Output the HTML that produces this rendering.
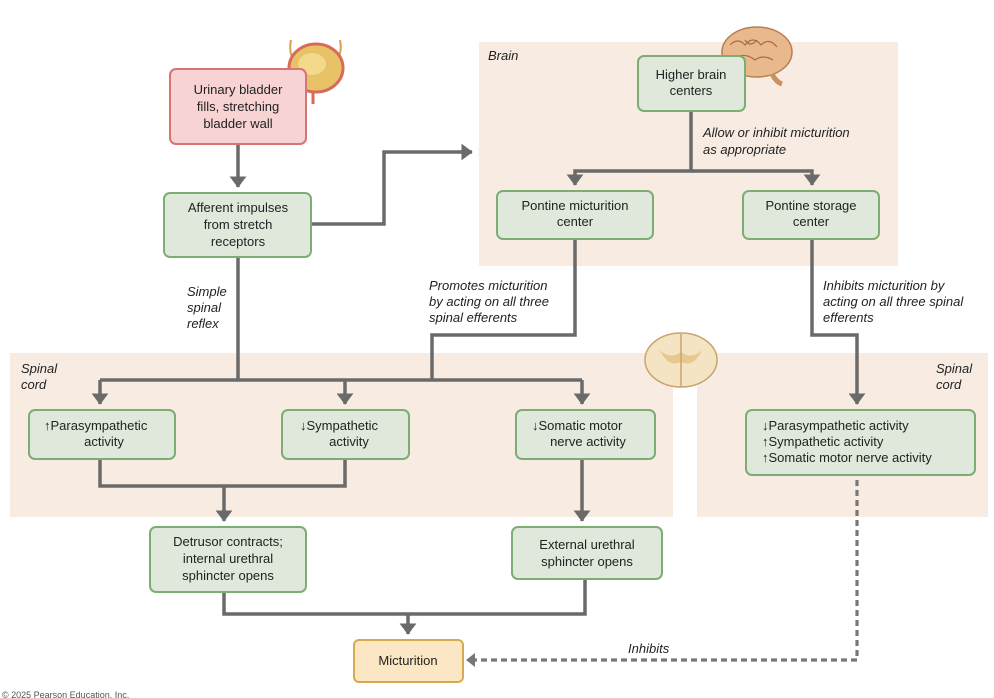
<!DOCTYPE html>
<html><head><meta charset="utf-8"><style>
html,body{margin:0;padding:0;background:#fff;}
svg{display:block;}
text{font-family:"Liberation Sans",sans-serif;font-size:13px;fill:#222;}
.i{font-style:italic;}
.box{fill:#dfe8da;stroke:#7cae74;stroke-width:2;}
.ln{fill:none;stroke:#6a6a6a;stroke-width:3.5;}
</style></head><body>
<svg width="994" height="698" viewBox="0 0 994 698" xmlns="http://www.w3.org/2000/svg">
<defs>
<marker id="a" markerWidth="6" markerHeight="6" refX="3" refY="3" orient="auto" markerUnits="strokeWidth"><path d="M0,0.6 L3.2,3 L0,5.4 Z" fill="#6a6a6a"/></marker>
</defs>
<rect x="479" y="42" width="419" height="224" fill="#f8ece2"/>
<rect x="10" y="353" width="663" height="164" fill="#f8ece2"/>
<rect x="697" y="353" width="291" height="164" fill="#f8ece2"/>

<path class="ln" d="M238,144 V187" marker-end="url(#a)"/>
<path class="ln" d="M311,224 H384 V152 H472" marker-end="url(#a)"/>
<path class="ln" d="M238,257 V380"/>
<path class="ln" d="M100,380 H582"/>
<path class="ln" d="M100,380 V404" marker-end="url(#a)"/>
<path class="ln" d="M345,380 V404" marker-end="url(#a)"/>
<path class="ln" d="M582,380 V404" marker-end="url(#a)"/>
<path class="ln" d="M575,239 V335 H432 V380"/>
<path class="ln" d="M691,111 V171 H575 V185" marker-end="url(#a)"/>
<path class="ln" d="M691,171 H812 V185" marker-end="url(#a)"/>
<path class="ln" d="M812,239 V335 H857 V404" marker-end="url(#a)"/>
<path class="ln" d="M100,459 V486 H345 V459"/>
<path class="ln" d="M224,486 V521" marker-end="url(#a)"/>
<path class="ln" d="M582,459 V521" marker-end="url(#a)"/>
<path class="ln" d="M224,592 V614 H585 V579"/>
<path class="ln" d="M408,614 V634" marker-end="url(#a)"/>
<path d="M857,480 V660 H472" fill="none" stroke="#777" stroke-width="3.2" stroke-dasharray="6,4"/>
<path d="M475,653 L466,660 L475,667 Z" fill="#777"/>

<g>
<path d="M291,40 Q288,55 296,62" stroke="#d9a24a" stroke-width="2" fill="none"/>
<path d="M340,40 Q343,55 334,62" stroke="#d9a24a" stroke-width="2" fill="none"/>
<ellipse cx="316" cy="68" rx="27" ry="24" fill="#e8c266" stroke="#d86a5a" stroke-width="3"/>
<ellipse cx="312" cy="64" rx="14" ry="11" fill="#f2d98c"/>
<path d="M313,91 V104" stroke="#d86a5a" stroke-width="3"/>
</g>
<g>
<ellipse cx="757" cy="52" rx="35" ry="25" fill="#e9b98e" stroke="#b97d4f" stroke-width="1.5"/>
<path d="M730,45 q8,-8 15,0 q8,-10 16,0 q8,-8 16,2 M735,58 q10,-6 20,2 q8,-6 18,0 M745,40 q5,8 12,0" stroke="#a86b3f" stroke-width="1.2" fill="none"/>
<path d="M772,74 q4,8 10,10" stroke="#c8915e" stroke-width="5" fill="none"/>
</g>
<g>
<ellipse cx="681" cy="360" rx="36" ry="27" fill="#f4e4c4" stroke="#c9a46e" stroke-width="1.5"/>
<path d="M660,350 q10,10 21,2 q11,8 21,-2 q-8,18 -21,12 q-13,6 -21,-12z" fill="#e7c98f"/>
<path d="M681,334 V387" stroke="#c9a46e" stroke-width="1.5"/>
</g>

<rect x="170" y="69" width="136" height="75" rx="6" fill="#f7d3d3" stroke="#d87474" stroke-width="2"/>
<text x="238" y="94" text-anchor="middle">Urinary bladder</text>
<text x="238" y="111" text-anchor="middle">fills, stretching</text>
<text x="238" y="128" text-anchor="middle">bladder wall</text>

<rect class="box" x="164" y="193" width="147" height="64" rx="6"/>
<text x="238" y="212" text-anchor="middle">Afferent impulses</text>
<text x="238" y="229" text-anchor="middle">from stretch</text>
<text x="238" y="246" text-anchor="middle">receptors</text>

<rect class="box" x="638" y="56" width="107" height="55" rx="6"/>
<text x="691" y="79" text-anchor="middle">Higher brain</text>
<text x="691" y="95" text-anchor="middle">centers</text>

<rect class="box" x="497" y="191" width="156" height="48" rx="6"/>
<text x="575" y="210" text-anchor="middle">Pontine micturition</text>
<text x="575" y="226" text-anchor="middle">center</text>

<rect class="box" x="743" y="191" width="136" height="48" rx="6"/>
<text x="811" y="210" text-anchor="middle">Pontine storage</text>
<text x="811" y="226" text-anchor="middle">center</text>

<rect class="box" x="29" y="410" width="146" height="49" rx="6"/>
<text x="44" y="430">↑Parasympathetic</text>
<text x="104" y="446" text-anchor="middle">activity</text>

<rect class="box" x="282" y="410" width="127" height="49" rx="6"/>
<text x="300" y="430">↓Sympathetic</text>
<text x="349" y="446" text-anchor="middle">activity</text>

<rect class="box" x="516" y="410" width="139" height="49" rx="6"/>
<text x="532" y="430">↓Somatic motor</text>
<text x="588" y="446" text-anchor="middle">nerve activity</text>

<rect class="box" x="746" y="410" width="229" height="65" rx="6"/>
<text x="762" y="430">↓Parasympathetic activity</text>
<text x="762" y="446">↑Sympathetic activity</text>
<text x="762" y="462">↑Somatic motor nerve activity</text>

<rect class="box" x="150" y="527" width="156" height="65" rx="6"/>
<text x="228" y="546" text-anchor="middle">Detrusor contracts;</text>
<text x="228" y="563" text-anchor="middle">internal urethral</text>
<text x="228" y="580" text-anchor="middle">sphincter opens</text>

<rect class="box" x="512" y="527" width="150" height="52" rx="6"/>
<text x="587" y="549" text-anchor="middle">External urethral</text>
<text x="587" y="566" text-anchor="middle">sphincter opens</text>

<rect x="354" y="640" width="109" height="42" rx="5" fill="#fbe7c4" stroke="#d9a952" stroke-width="2"/>
<text x="408" y="665" text-anchor="middle">Micturition</text>

<text class="i" x="488" y="60">Brain</text>
<text class="i" x="703" y="137">Allow or inhibit micturition</text>
<text class="i" x="703" y="154">as appropriate</text>
<text class="i" x="187" y="296">Simple</text>
<text class="i" x="187" y="312">spinal</text>
<text class="i" x="187" y="328">reflex</text>
<text class="i" x="429" y="290">Promotes micturition</text>
<text class="i" x="429" y="306">by acting on all three</text>
<text class="i" x="429" y="322">spinal efferents</text>
<text class="i" x="823" y="290">Inhibits micturition by</text>
<text class="i" x="823" y="306">acting on all three spinal</text>
<text class="i" x="823" y="322">efferents</text>
<text class="i" x="21" y="373">Spinal</text>
<text class="i" x="21" y="389">cord</text>
<text class="i" x="936" y="373">Spinal</text>
<text class="i" x="936" y="389">cord</text>
<text class="i" x="628" y="653">Inhibits</text>
<text x="2" y="698" style="font-size:9px;fill:#555">© 2025 Pearson Education, Inc.</text>
</svg>
</body></html>
